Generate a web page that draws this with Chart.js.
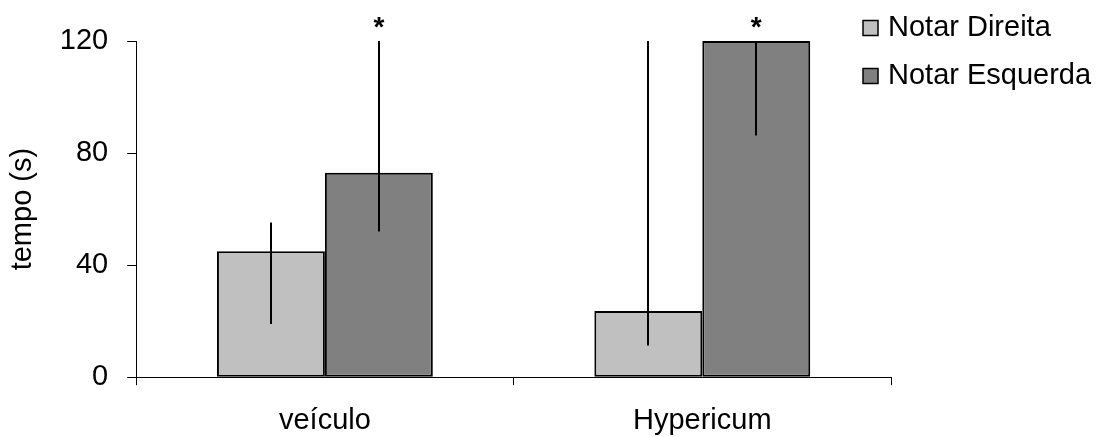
<!DOCTYPE html>
<html>
<head>
<meta charset="utf-8">
<script src="https://cdn.jsdelivr.net/npm/chart.js@4/dist/chart.umd.min.js"></script>
<style>
  html, body { margin: 0; padding: 0; background: #fff; }
  #wrap { width: 1115px; height: 437px; }
</style>
</head>
<body>
<div id="wrap"><canvas id="myChart"></canvas></div>
<script>
"use strict";

var grupos = ['veículo', 'Hypericum'];
var direita = [45, 23.6];
var esquerda = [73, 120];
// error bar ends (low / high)
var direitaLow = [19, 11.3];
var direitaHigh = [55.2, 120];
var esquerdaLow = [52, 86.3];
var esquerdaHigh = [120, 120];
var esquerdaSig = ['*', '*'];
var yTicks = [0, 40, 80, 120];

var fonte = "'Liberation Sans', Arial, sans-serif";

// vertical error lines on each bar
var errorBars = {
    id: 'errorBars',
    afterDatasetsDraw: function(chart) {
        var ctx = chart.ctx;
        var y = chart.scales.y;
        ctx.save();
        ctx.strokeStyle = '#000';
        ctx.lineWidth = 2;
        chart.data.datasets.forEach(function(ds, i) {
            var meta = chart.getDatasetMeta(i);
            meta.data.forEach(function(bar, j) {
                var x = Math.round(bar.x);
                ctx.beginPath();
                ctx.moveTo(x, y.getPixelForValue(ds.errLow[j]));
                ctx.lineTo(x, y.getPixelForValue(ds.errHigh[j]));
                ctx.stroke();
                if (ds.sig && ds.sig[j]) {
                    ctx.fillStyle = '#000';
                    ctx.font = 'bold 28px ' + fonte;
                    ctx.textAlign = 'center';
                    ctx.textBaseline = 'alphabetic';
                    ctx.fillText(ds.sig[j], bar.x, y.getPixelForValue(120) - 5);
                }
            });
        });
        ctx.restore();
    }
};

// legend at the upper right
var legenda = {
    id: 'legenda',
    afterDraw: function(chart) {
        var ctx = chart.ctx;
        ctx.save();
        ctx.font = '29px ' + fonte;
        ctx.textBaseline = 'middle';
        ctx.textAlign = 'left';
        chart.data.datasets.forEach(function(ds, i) {
            var cy = 28 + i * 48;
            ctx.fillStyle = ds.backgroundColor;
            ctx.fillRect(863, cy - 7.5, 15, 15);
            ctx.strokeStyle = '#000';
            ctx.lineWidth = 1.5;
            ctx.strokeRect(863, cy - 7.5, 15, 15);
            ctx.fillStyle = '#000';
            ctx.fillText(ds.label, 888, cy);
        });
        ctx.restore();
    }
};

var ctx1 = document.getElementById('myChart').getContext('2d');
var myChart = new Chart(ctx1, {
    type: 'bar',
    data: {
        labels: grupos,
        datasets: [{
            label: 'Notar Direita',
            data: direita,
            errLow: direitaLow,
            errHigh: direitaHigh,
            backgroundColor: '#C0C0C0',
            borderColor: '#000',
            borderWidth: 2,
            borderSkipped: false
        }, {
            label: 'Notar Esquerda',
            data: esquerda,
            errLow: esquerdaLow,
            errHigh: esquerdaHigh,
            sig: esquerdaSig,
            backgroundColor: '#808080',
            borderColor: '#000',
            borderWidth: 2,
            borderSkipped: false
        }]
    },
    options: {
        responsive: true,
        maintainAspectRatio: false,
        animation: false,
        categoryPercentage: 0.572,
        barPercentage: 1,
        layout: {
            padding: { top: 41, right: 224, left: 6, bottom: -19 }
        },
        plugins: {
            legend: { display: false },
            tooltip: { enabled: false }
        },
        scales: {
            x: {
                grid: {
                    offset: true,
                    drawOnChartArea: false,
                    drawTicks: true,
                    tickLength: 8,
                    color: '#000'
                },
                border: { color: '#000', width: 1 },
                ticks: {
                    color: '#000',
                    padding: 18,
                    font: { family: fonte, size: 29 }
                }
            },
            y: {
                min: 0,
                max: 120,
                afterBuildTicks: function(axis) {
                    axis.ticks = yTicks.map(function(v) { return { value: v }; });
                },
                grid: {
                    drawOnChartArea: false,
                    drawTicks: true,
                    tickLength: 9,
                    color: '#000'
                },
                border: { color: '#000', width: 1 },
                ticks: {
                    color: '#000',
                    padding: 19,
                    font: { family: fonte, size: 29 }
                },
                title: {
                    display: true,
                    text: 'tempo (s)',
                    color: '#000',
                    padding: { top: 0, bottom: 0 },
                    font: { family: fonte, size: 29 }
                }
            }
        }
    },
    plugins: [errorBars, legenda]
});
</script>
</body>
</html>
